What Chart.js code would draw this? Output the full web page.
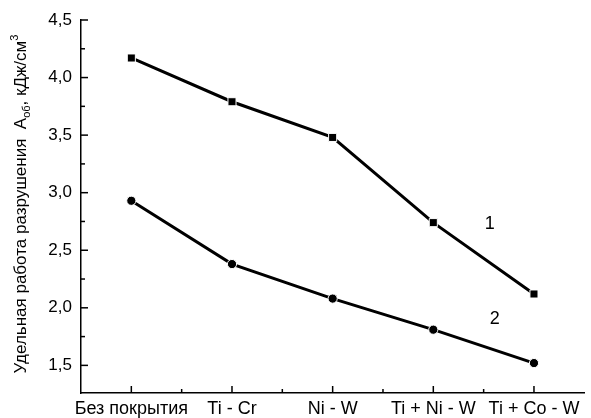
<!DOCTYPE html>
<html>
<head>
<meta charset="utf-8">
<script src="https://cdn.jsdelivr.net/npm/chart.js@4.4.1/dist/chart.umd.min.js"></script>
<style>
  html, body { margin: 0; padding: 0; background: #fff; }
  #wrap { width: 591px; height: 418px; position: relative; }
</style>
</head>
<body>
<div id="wrap"><canvas id="chart"></canvas></div>
<script>
// ── Data ──────────────────────────────────────────────────────────────────────
const categories = ["Без покрытия", "Ti - Cr", "Ni - W", "Ti + Ni - W", "Ti + Co - W"];
const series1    = [4.17, 3.79, 3.48, 2.74, 2.12];   // curve 1, squares
const series2    = [2.93, 2.38, 2.08, 1.81, 1.52];   // curve 2, circles
const yTicks     = [1.5, 2.0, 2.5, 3.0, 3.5, 4.0, 4.5];
const curveLabels = [
  { text: "1", x: 3.56, y: 2.73 },
  { text: "2", x: 3.61, y: 1.90 },
];

const FONT = "'Liberation Sans', Arial, sans-serif";
Chart.defaults.font.family = FONT;
Chart.defaults.color = "#000";

const toPoints = (arr) => arr.map((v, i) => ({ x: i, y: v }));

// ── Inward ticks, axis title and curve numbers ───────────────────────────────
const decorPlugin = {
  id: "decor",
  afterDraw(chart) {
    const { ctx, chartArea: a, scales: { x, y } } = chart;
    ctx.save();
    ctx.strokeStyle = "#000";
    ctx.lineWidth = 1.5;

    // y ticks (major + minor), pointing into the plot
    yTicks.forEach((v, i) => {
      const py = y.getPixelForValue(v);
      ctx.beginPath(); ctx.moveTo(a.left, py); ctx.lineTo(a.left + 7, py); ctx.stroke();
      if (i > 0) {
        const pm = y.getPixelForValue((v + yTicks[i - 1]) / 2);
        ctx.beginPath(); ctx.moveTo(a.left, pm); ctx.lineTo(a.left + 4, pm); ctx.stroke();
      }
    });
    // x ticks (major at categories, minor between)
    categories.forEach((c, i) => {
      const px = x.getPixelForValue(i);
      ctx.beginPath(); ctx.moveTo(px, a.bottom); ctx.lineTo(px, a.bottom - 7); ctx.stroke();
      if (i > 0) {
        const pm = x.getPixelForValue(i - 0.5);
        ctx.beginPath(); ctx.moveTo(pm, a.bottom); ctx.lineTo(pm, a.bottom - 4); ctx.stroke();
      }
    });

    // curve numbers
    ctx.fillStyle = "#000";
    ctx.font = "18px " + FONT;
    ctx.textAlign = "center";
    ctx.textBaseline = "middle";
    curveLabels.forEach((l) => {
      ctx.fillText(l.text, x.getPixelForValue(l.x), y.getPixelForValue(l.y));
    });

    // y axis title with subscript / superscript
    const parts = [
      { t: "Удельная работа разрушения  A", size: 17, dy: 0 },
      { t: "об", size: 11, dy: 4 },
      { t: ", кДж/см", size: 17, dy: 0 },
      { t: "3", size: 11, dy: -8 },
    ];
    let total = 0;
    parts.forEach((p) => { ctx.font = p.size + "px " + FONT; p.w = ctx.measureText(p.t).width; total += p.w; });
    ctx.translate(26, 204);
    ctx.rotate(-Math.PI / 2);
    ctx.textAlign = "left";
    ctx.textBaseline = "alphabetic";
    let cx = -total / 2;
    parts.forEach((p) => {
      ctx.font = p.size + "px " + FONT;
      ctx.fillText(p.t, cx, p.dy);
      cx += p.w;
    });
    ctx.restore();
  },
};

// ── Chart ─────────────────────────────────────────────────────────────────────
new Chart(document.getElementById("chart"), {
  type: "line",
  data: {
    datasets: [
      {
        label: "1",
        data: toPoints(series1),
        borderColor: "#000",
        borderWidth: 3,
        pointStyle: "rect",
        pointRadius: 5.7,
        pointBackgroundColor: "#000",
        pointBorderColor: "#fff",
        pointBorderWidth: 1,
        tension: 0,
      },
      {
        label: "2",
        data: toPoints(series2),
        borderColor: "#000",
        borderWidth: 3,
        pointStyle: "circle",
        pointRadius: 4.6,
        pointBackgroundColor: "#000",
        pointBorderColor: "#fff",
        pointBorderWidth: 1,
        tension: 0,
      },
    ],
  },
  options: {
    responsive: true,
    maintainAspectRatio: false,
    animation: false,
    layout: { padding: { top: 20, right: 0, left: 0, bottom: 0 } },
    plugins: { legend: { display: false }, tooltip: { enabled: false } },
    scales: {
      x: {
        type: "linear",
        min: -0.5,
        max: 4.5,
        afterBuildTicks: (s) => { s.ticks = categories.map((c, i) => ({ value: i })); },
        afterFit: (s) => { s.height = 25; s.paddingRight = 0; s.paddingLeft = 0; },
        ticks: {
          font: { size: 18 },
          color: "#000",
          padding: 5,
          maxRotation: 0,
          autoSkip: false,
          callback: (v) => categories[v] ?? "",
        },
        grid: { display: false, drawTicks: false },
        border: { display: true, color: "#000", width: 1.5 },
      },
      y: {
        min: 1.26,
        max: 4.5,
        afterBuildTicks: (s) => { s.ticks = yTicks.map((v) => ({ value: v })); },
        afterFit: (s) => { s.width = 81; },
        ticks: {
          font: { size: 17 },
          color: "#000",
          padding: 9,
          callback: (v) => v.toFixed(1).replace(".", ","),
        },
        grid: { display: false, drawTicks: false },
        border: { display: true, color: "#000", width: 1.5 },
      },
    },
  },
  plugins: [decorPlugin],
});
</script>
</body>
</html>
